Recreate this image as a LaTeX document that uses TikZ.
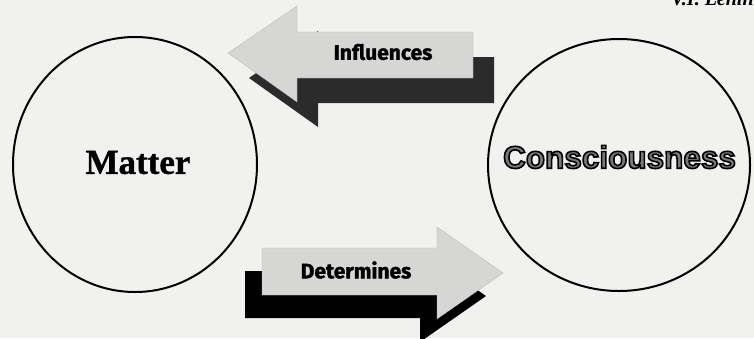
\documentclass[tikz,border=0pt]{standalone}
\usepackage{fontspec}
\setmainfont{Liberation Serif}[BoldFeatures={FakeBold=1.2}]
\newfontfamily\arrowfont{Fira Sans}[BoldFeatures={FakeBold=1.5}]
\newfontfamily\wordfont{Liberation Sans}
\usetikzlibrary{shapes.geometric}

\definecolor{paper}{HTML}{F1F1EF}
\definecolor{arrowgray}{HTML}{D6D6D4}
\definecolor{shadowgray}{HTML}{2B2B2B}
\definecolor{lettergray}{HTML}{7A7A7A}

% hollow lettering: grey face with a dark stroked rim
\newcommand\hollowword[1]{%
  \textcolor{lettergray}{\special{pdf:literal 0 0 0 RG 2 Tr 1.6 w}#1\special{pdf:literal 0 Tr}}}

\tikzset{
  bubble/.style={ellipse, draw=black, line width=2pt, inner sep=0pt},
  arrowbody/.style={fill=arrowgray, draw=arrowgray!85!black, line width=0.3pt},
  arrowshade/.style={fill=#1},
  arrowlabel/.style={font=\arrowfont\bfseries\fontsize{21}{21}\selectfont, inner sep=0pt},
}

\begin{document}
\begin{tikzpicture}[x=1pt, y=-1pt]
  \useasboundingbox (0,0) rectangle (754,338);
  \fill[paper] (0,0) rectangle (754,338);

  % author line at the top edge
  \node[anchor=base west, inner sep=0pt, font=\bfseries\itshape\fontsize{20}{20}\selectfont]
    (author) at (671,5) {V.I. Lenin};

  % the two poles
  \node[bubble, minimum width=244pt, minimum height=255pt] (matter) at (135,164.5) {};
  \node[inner sep=0pt, font=\bfseries\fontsize{35}{35}\selectfont] (mattertext) at (138,162.5) {Matter};

  \node[bubble, minimum width=262pt, minimum height=252pt] (consciousness) at (619,165) {};
  \node[inner sep=0pt, font=\wordfont\bfseries\fontsize{31.5}{31.5}\selectfont]
    (consciousnesstext) at (619.5,157) {\hollowword{Consciousness}};

  % upper arrow, pointing left, with its shadow
  \fill[arrowshade=shadowgray]
    (249,78) -- (318,31) -- (318,57) -- (494,57) -- (494,103) -- (318,103) -- (318,127) -- cycle;
  \filldraw[arrowbody]
    (228,53) -- (297,6) -- (297,32) -- (473,32) -- (473,78) -- (297,78) -- (297,102) -- cycle;
  \node[arrowlabel] (influences) at (383,52) {Influences};

  % lower arrow, pointing right, with its shadow
  \fill[arrowshade=black]
    (245,271) -- (420,271) -- (420,250) -- (486,296) -- (420,342) -- (420,318) -- (245,318) -- cycle;
  \filldraw[arrowbody]
    (262,248) -- (437,248) -- (437,227) -- (503,273) -- (437,319) -- (437,295) -- (262,295) -- cycle;
  \node[arrowlabel] (determines) at (356,270) {Determines};
\end{tikzpicture}
\end{document}
